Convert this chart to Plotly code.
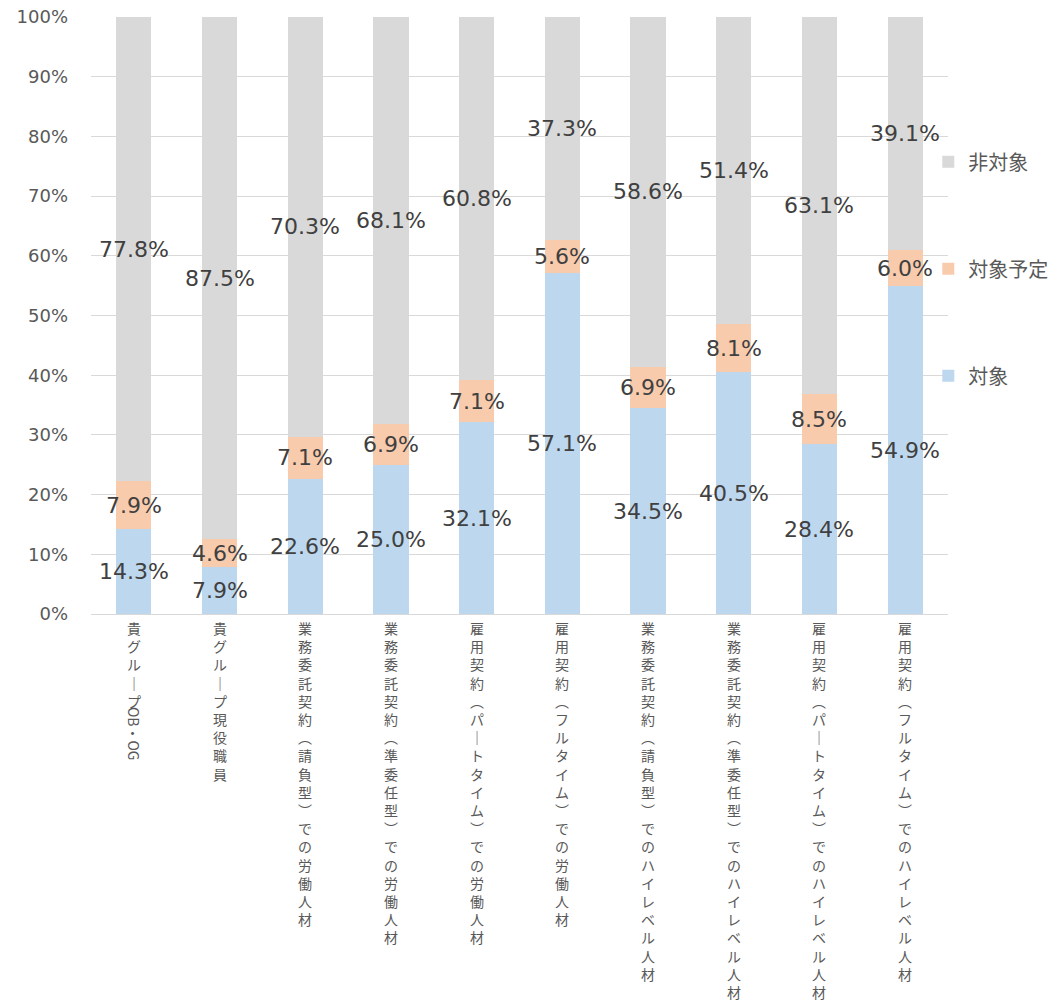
import plotly.graph_objects as go

# Categories (horizontal form) and series values in percent
categories = [
    "貴グループOB・OG",
    "貴グループ現役職員",
    "業務委託契約（請負型）での労働人材",
    "業務委託契約（準委任型）での労働人材",
    "雇用契約（パートタイム）での労働人材",
    "雇用契約（フルタイム）での労働人材",
    "業務委託契約（請負型）でのハイレベル人材",
    "業務委託契約（準委任型）でのハイレベル人材",
    "雇用契約（パートタイム）でのハイレベル人材",
    "雇用契約（フルタイム）でのハイレベル人材",
]
target = [14.3, 7.9, 22.6, 25.0, 32.1, 57.1, 34.5, 40.5, 28.4, 54.9]
planned = [7.9, 4.6, 7.1, 6.9, 7.1, 5.6, 6.9, 8.1, 8.5, 6.0]
non_target = [77.8, 87.5, 70.3, 68.1, 60.8, 37.3, 58.6, 51.4, 63.1, 39.1]

series_names = ["対象", "対象予定", "非対象"]
series_colors = ["#BDD7EE", "#F8CBAD", "#D9D9D9"]
y_ticks = [0, 10, 20, 30, 40, 50, 60, 70, 80, 90, 100]
y_tick_labels = [f"{t}%" for t in y_ticks]

JP_FONT = "Noto Sans CJK JP"
NUM_FONT = "DejaVu Sans"

fig = go.Figure()
series = [target, planned, non_target]
for i, (name, vals, col) in enumerate(zip(series_names, series, series_colors)):
    fig.add_trace(go.Bar(
        x=categories, y=vals, name=name,
        marker=dict(color=col, line=dict(width=0)),
        legendgroup=name,
        legendrank=len(series_names) - i,  # top legend entry = top segment
        hoverinfo="skip",
    ))

# Value labels centred in each stacked segment
annotations = []
for ci, cat in enumerate(categories):
    base = 0.0
    for vals in series:
        v = vals[ci]
        annotations.append(dict(
            x=cat, y=base + v / 2, xref="x", yref="y",
            text=f"{v:.1f}%", showarrow=False,
            font=dict(family=NUM_FONT, size=22, color="#404040"),
            xanchor="center", yanchor="middle",
        ))
        base += v

# Vertical (tategaki) category labels: upright glyphs stacked line by line,
# Latin runs rotated 90 degrees as in vertical writing.
vertical_forms = {"（": "︵", "）": "︶", "ー": "｜"}
LABEL_SIZE = 14
LINE = LABEL_SIZE * 1.3
TOP = 3.0
LABEL_FONT = dict(family=JP_FONT, size=LABEL_SIZE, color="#595959")


def split_runs(text):
    runs = []
    for ch in text:
        latin = ch.isascii() or ch == "・" and runs and runs[-1][0]
        if runs and runs[-1][0] == latin:
            runs[-1][1] += ch
        else:
            runs.append([latin, ch])
    return runs


for cat in categories:
    offset = TOP
    for latin, run in split_runs(cat):
        if latin:
            length = 9.5 * len(run) + 4
            annotations.append(dict(
                x=cat, y=0, xref="x", yref="y", text=run, showarrow=False,
                textangle=90, font=LABEL_FONT,
                xanchor="center", yanchor="middle",
                yshift=-(offset + length / 2),
            ))
            offset += length
        else:
            stacked = "<br>".join(vertical_forms.get(c, c) for c in run)
            annotations.append(dict(
                x=cat, y=0, xref="x", yref="y", text=stacked, showarrow=False,
                font=LABEL_FONT, xanchor="center", yanchor="top",
                borderpad=0, yshift=-offset,
            ))
            offset += LINE * len(run)

fig.update_layout(
    barmode="stack",
    bargap=0.59,
    width=1052, height=1002,
    margin=dict(l=91, r=104, t=17, b=388, autoexpand=False),
    paper_bgcolor="white", plot_bgcolor="white",
    showlegend=True,
    legend=dict(
        x=0.977, xanchor="left", y=0.79, yanchor="top",
        traceorder="grouped", tracegroupgap=78,
        font=dict(family=JP_FONT, size=20, color="#595959"),
        bgcolor="rgba(0,0,0,0)",
    ),
    annotations=annotations,
    xaxis=dict(
        showticklabels=False, ticks="", showgrid=False,
        showline=True, linecolor="#D9D9D9", linewidth=1,
        range=[-0.5, len(categories) - 0.5],
    ),
    yaxis=dict(
        range=[0, 100], tickmode="array",
        tickvals=y_ticks, ticktext=y_tick_labels,
        showgrid=True, gridcolor="#D9D9D9", gridwidth=1,
        zeroline=False, showline=False, ticks="",
        ticklabelstandoff=22,
        tickfont=dict(family=NUM_FONT, size=18, color="#595959"),
    ),
)

fig.write_html("out.html")
